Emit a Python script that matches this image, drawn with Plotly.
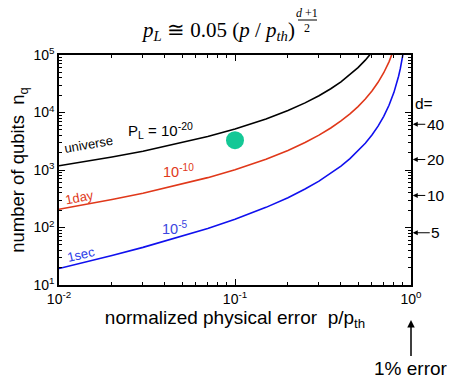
import plotly.graph_objects as go
import math

# normalized physical error p/p_th and number of qubits for each logical error target
p_black = [0.01, 0.015, 0.02, 0.03, 0.05, 0.07, 0.1, 0.15, 0.2, 0.25, 0.3, 0.35, 0.4, 0.45, 0.5, 0.55, 0.6]
n_black = [1183, 1446, 1683, 2126, 2970, 3814, 5155, 7709, 10816, 14710, 19600, 25920, 34190, 45240, 60270, 81280, 111700]

p_red = [0.01, 0.015, 0.02, 0.03, 0.05, 0.07, 0.1, 0.15, 0.2, 0.25, 0.3, 0.35, 0.4, 0.45, 0.5, 0.55, 0.6, 0.65, 0.7, 0.72, 0.75, 0.8]
n_red = [207, 259, 306, 394, 564, 736, 1011, 1539, 2189, 3003, 4037, 5373, 7130, 9470, 12680, 17170, 23690, 33490, 49140, 58030, 75960, 126800]

p_blue = [0.01, 0.015, 0.02, 0.03, 0.05, 0.07, 0.1, 0.15, 0.2, 0.25, 0.3, 0.35, 0.4, 0.45, 0.5, 0.55, 0.6, 0.65, 0.7, 0.75, 0.8, 0.82, 0.85, 0.87, 0.9]
n_blue = [19.4, 26.1, 32.6, 45.1, 70.2, 96.3, 139, 224, 330, 466, 640, 868, 1169, 1574, 2132, 2918, 4061, 5791, 8564, 13340, 22410, 28460, 42720, 58370, 102700]

dot_p = [0.1]
dot_n = [3300]

d_labels = ["40", "20", "10", "5"]
d_nq = [6241, 1521, 361, 81]

x_ticks = [0.01, 0.1, 1]
x_ticktext = ["10<sup>-2</sup>", "10<sup>-1</sup>", "10<sup>0</sup>"]
y_ticks = [10, 100, 1000, 10000, 100000]
y_ticktext = ["10<sup>1</sup>", "10<sup>2</sup>", "10<sup>3</sup>", "10<sup>4</sup>", "10<sup>5</sup>"]

FONT = "Arial, Liberation Sans, sans-serif"
SERIF = "Times New Roman, Liberation Serif, serif"
BLACK = "#000000"
RED = "#e0381a"
BLUE = "#1010ee"
GREEN = "#14c896"

fig = go.Figure()
fig.add_trace(go.Scatter(x=p_black, y=n_black, mode="lines", line=dict(color=BLACK, width=1.6), showlegend=False))
fig.add_trace(go.Scatter(x=p_red, y=n_red, mode="lines", line=dict(color=RED, width=1.6), showlegend=False))
fig.add_trace(go.Scatter(x=p_blue, y=n_blue, mode="lines", line=dict(color=BLUE, width=1.6), showlegend=False))
fig.add_trace(go.Scatter(x=dot_p, y=dot_n, mode="markers", marker=dict(color=GREEN, size=18), showlegend=False))

minor_x = [m * 10 ** e for e in (-2, -1) for m in range(2, 10)]
minor_y = [m * 10 ** e for e in (1, 2, 3, 4) for m in range(2, 10)]

L, R, T, B = 59, 38, 55, 100
W, H = 449, 385
PW, PH = W - L - R, H - T - B

def px(x):
    return (x - L) / PW

def py(y):
    return (H - B - y) / PH

fig.update_layout(
    width=W, height=H,
    margin=dict(l=L, r=R, t=T, b=B),
    paper_bgcolor="white", plot_bgcolor="white",
    font=dict(family=FONT, size=14, color="black"),
    xaxis=dict(
        type="log", range=[-2, 0],
        tickmode="array", tickvals=x_ticks, ticktext=x_ticktext,
        ticks="inside", ticklen=6, tickwidth=1, tickcolor="black",
        minor=dict(tickmode="array", tickvals=minor_x, ticks="inside", ticklen=3, tickcolor="black", showgrid=False),
        showline=True, linecolor="black", linewidth=1.5, mirror="ticks",
        showgrid=False, zeroline=False,
        tickfont=dict(size=14, family=FONT),
        title=dict(text="normalized physical error  p/p<sub>th</sub>", font=dict(size=19, family=FONT), standoff=3),
    ),
    yaxis=dict(
        type="log", range=[1, 5],
        tickmode="array", tickvals=y_ticks, ticktext=y_ticktext,
        ticks="inside", ticklen=6, tickwidth=1, tickcolor="black",
        minor=dict(tickmode="array", tickvals=minor_y, ticks="inside", ticklen=3, tickcolor="black", showgrid=False),
        showline=True, linecolor="black", linewidth=1.5, mirror="ticks",
        showgrid=False, zeroline=False,
        tickfont=dict(size=14, family=FONT),
        title=dict(text="number of qubits  n<sub>q</sub>", font=dict(size=18.5, family=FONT), standoff=4),
    ),
)

ann = []
# title formula
ann.append(dict(xref="paper", yref="paper", x=px(297), y=py(31), xanchor="right", yanchor="middle",
                text="<i>p</i><sub><i>L</i></sub> ≅ 0.05 (<i>p</i> / <i>p</i><sub><i>th</i></sub>)",
                showarrow=False, font=dict(family=SERIF, size=21)))
ann.append(dict(xref="paper", yref="paper", x=px(307), y=py(13), xanchor="center", yanchor="middle",
                text="<i>d</i> +1", showarrow=False, font=dict(family=SERIF, size=12)))
ann.append(dict(xref="paper", yref="paper", x=px(307), y=py(28), xanchor="center", yanchor="middle",
                text="2", showarrow=False, font=dict(family=SERIF, size=12)))
# curve labels
def lab(x, y, text, color, size, angle=0):
    ann.append(dict(xref="paper", yref="paper", x=px(x), y=py(y), xanchor="center", yanchor="middle",
                    text=text, textangle=angle, showarrow=False, font=dict(size=size, color=color)))

lab(88, 144, "universe", BLACK, 13, -10)
lab(160, 130, "P<sub>L</sub> = 10<sup>-20</sup>", BLACK, 15)
lab(79, 197, "1day", RED, 13, -11)
lab(178, 171, "10<sup>-10</sup>", RED, 14.5)
lab(81, 254, "1sec", "#2a3ae8", 13, -13)
lab(175, 228, "10<sup>-5</sup>", "#3a46e0", 14.5)
# d= scale
lab(424, 103, "d=", BLACK, 15.5)
for t, n in zip(d_labels, d_nq):
    ann.append(dict(xref="paper", yref="y", x=1.005, y=math.log10(n), text=t,
                    showarrow=True, arrowhead=2, arrowsize=1, arrowwidth=1, arrowcolor="black",
                    ax=23, ay=0, standoff=0, font=dict(size=15.5)))
# 1% error
ann.append(dict(xref="x", yref="paper", x=0, y=py(320), text="1% error",
                showarrow=True, arrowhead=2, arrowsize=1, arrowwidth=1.5, arrowcolor="black",
                ax=0, ay=48, standoff=0, font=dict(size=19)))
fig.update_layout(annotations=ann)
fig.add_shape(type="line", xref="paper", yref="paper", x0=px(298), x1=px(317), y0=py(20), y1=py(20),
              line=dict(color="black", width=1))

fig.write_html("out.html", config={"displayModeBar": False},
               post_script="document.body.style.margin='0';")
